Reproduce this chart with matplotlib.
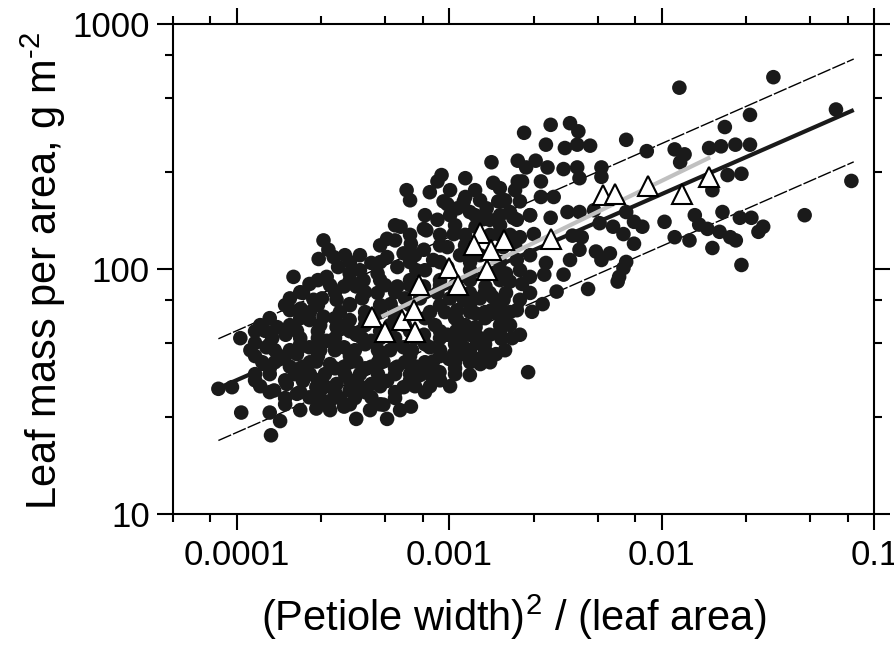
import numpy as np
import matplotlib.pyplot as plt
from matplotlib.ticker import FixedLocator, NullFormatter

plt.rcParams['font.family'] = ['Liberation Sans', 'DejaVu Sans']
plt.rcParams['mathtext.fontset'] = 'custom'
plt.rcParams['mathtext.rm'] = 'Liberation Sans'
plt.rcParams['mathtext.default'] = 'regular'

# all species: (petiole width)^2 / leaf area  vs  LMA (g m-2)
petiole_ratio = [
    0.00158, 0.0021, 0.00092, 0.00088, 0.00119, 0.00063, 0.00081, 0.00161, 0.00173, 0.0021,
    0.00094, 0.00109, 0.00119, 0.00125, 0.0015, 0.0017, 0.00193, 0.00155, 0.00208, 0.00088,
    0.00076, 0.00059, 0.00051, 0.00133, 0.000256, 0.00027, 0.000243, 0.000286, 0.0003, 0.00043,
    0.00046, 0.00066, 0.00061, 0.00076, 0.00084, 0.00098, 0.00034, 0.00051, 0.00057, 0.0007,
    0.00098, 0.00179, 0.00208, 0.000185, 0.00022, 0.000265, 0.000205, 0.00023, 0.000178, 0.0002,
    0.00032, 0.000365, 0.000395, 0.000295, 0.00034, 0.00046, 0.00057, 0.00053, 0.00076, 0.00088,
    0.00117, 0.00125, 0.00155, 0.0018, 0.00208, 0.00166, 0.00109, 0.000136, 0.000155, 0.000122,
    0.000138, 0.00017, 0.000192, 0.00022, 0.000256, 0.000295, 0.00034, 0.000365, 0.000265, 0.00022,
    0.00032, 0.00043, 0.00061, 0.00076, 0.00081, 0.00098, 0.00109, 0.00125, 0.00133, 0.00155,
    0.00176, 0.00215, 0.00016, 0.000192, 0.000178, 0.000205, 0.000237, 0.000275, 0.00032, 0.000365,
    0.00043, 0.00049, 0.00057, 0.0007, 0.00084, 0.001, 0.00117, 0.00138, 0.00166, 0.0009,
    0.00125, 0.00061, 0.00051, 0.00043, 0.00034, 0.000295, 0.000237, 0.000205, 0.000172, 0.00015,
    0.000192, 0.000082, 0.000095, 0.00073, 0.000143, 0.00016, 0.000275, 0.000237, 0.00032, 0.000365,
    0.00043, 0.00049, 0.00051, 0.00066, 0.00022, 0.000145, 0.000105,
    0.066, 0.026, 0.00225, 0.003, 0.0037, 0.00405, 0.0068, 0.00285, 0.0035, 0.004,
    0.0046, 0.0198, 0.0167, 0.019, 0.0222, 0.026, 0.0115, 0.0128, 0.0085, 0.00255,
    0.0023, 0.0029, 0.00345, 0.004, 0.0052, 0.0052, 0.0041, 0.0022, 0.0122, 0.0204,
    0.0237, 0.0173, 0.0027, 0.0027, 0.0031, 0.0018, 0.00215, 0.0036, 0.0041, 0.0048,
    0.0068, 0.0024, 0.003, 0.002, 0.00145, 0.00117, 0.00098, 0.00078, 0.00105, 0.0017,
    0.00215, 0.0025, 0.0038, 0.0042, 0.0051, 0.0059, 0.0066, 0.0074, 0.0074, 0.0081,
    0.0103, 0.0143, 0.015, 0.0164, 0.0187, 0.021, 0.0223, 0.0193, 0.0233, 0.0264,
    0.03, 0.0285, 0.0115, 0.0135, 0.0173, 0.0237, 0.047, 0.078, 0.0049, 0.0057,
    0.0052, 0.0068, 0.0066, 0.0063, 0.0062, 0.0045, 0.00345, 0.0032, 0.0041, 0.0037,
    0.00285, 0.0028, 0.0024, 0.0022, 0.00193, 0.0024, 0.00275, 0.00245, 0.00215, 0.00185,
    0.00173, 0.00179, 0.00158, 0.00173, 0.00135, 0.0014, 0.00117, 0.00105, 0.00079, 0.00235,
    0.00108, 0.00133, 0.0016, 0.00148, 0.00185, 0.0121, 0.0335,
    # dense core of the cloud
    0.000275, 0.000499, 0.000654, 0.000905, 0.001065,
    0.000178, 0.000252, 0.000389, 0.000619, 0.000729, 0.001009, 0.001396,
    0.000221, 0.000306, 0.000402, 0.000473, 0.000556, 0.000812, 0.000955, 0.001253, 0.001474, 0.001932,
    0.000129, 0.000178, 0.000247, 0.000323, 0.000402, 0.000527, 0.000619, 0.000857, 0.001187, 0.001734, 0.001932,
    0.000104, 0.000147, 0.000199, 0.000241, 0.00029, 0.000389, 0.000473, 0.000556, 0.00069, 0.000905,
    0.001124, 0.001396, 0.001975,
    0.000116, 0.000151, 0.000178, 0.000247, 0.00029, 0.00036, 0.000462, 0.000527, 0.000668, 0.000905,
    0.001253, 0.001474, 0.00183,
    0.000132, 0.000151, 0.000221, 0.000341, 0.000462, 0.000619, 0.000769, 0.001065, 0.001253, 0.001556,
    0.000122, 0.000143, 0.000188, 0.000221, 0.00026, 0.000323, 0.00038, 0.000462, 0.000556, 0.000654,
    0.000812, 0.001065,
    0.000129, 0.00026, 0.00038, 0.000473, 0.00069, 0.000812, 0.001009,
    0.000169, 0.000247, 0.000306, 0.00036, 0.000556,
    0.000199, 0.000275, 0.000424, 0.000587,
    0.001009, 0.001323, 0.00204,
    0.000769, 0.001009, 0.001323, 0.001734, 0.0024,
    0.000654, 0.000905, 0.001187, 0.001556, 0.001932,
    0.00038, 0.00069, 0.001124, 0.001396, 0.0024,
    0.00038, 0.000769, 0.001253, 0.001734, 0.002153,
    0.000323, 0.000473, 0.000556,
    # staggered fill between the rows above
    0.000241, 0.000341, 0.000473, 0.000654, 0.000905, 0.001253, 0.001734,
    0.000199, 0.00029, 0.000402, 0.000556, 0.000769, 0.001065, 0.001474,
    0.000169, 0.000241, 0.000341, 0.000473, 0.000654, 0.000905, 0.001253, 0.001734,
    0.000143, 0.000199, 0.00029, 0.000402, 0.000556, 0.000769, 0.001065, 0.001474,
    0.000122, 0.000169, 0.000241, 0.000341, 0.000473, 0.000654, 0.000905, 0.001253, 0.001734,
    0.000143, 0.000199, 0.00029, 0.000402, 0.000556, 0.000769, 0.001065, 0.001474,
    0.000122, 0.000169, 0.000241, 0.000341, 0.000473, 0.000654, 0.000905, 0.001253,
    0.000143, 0.000199, 0.00029, 0.000402, 0.000556, 0.000769, 0.001065,
    0.000122, 0.000169, 0.000241, 0.000341, 0.000473, 0.000654, 0.000905,
    0.000143, 0.000199, 0.00029, 0.000402, 0.000556, 0.000769,
    0.000169, 0.000241, 0.000341, 0.000473,
    0.000654, 0.001396, 0.00183,
    0.000556, 0.001065, 0.001734,
    0.000905, 0.001187, 0.00204,
    0.000341, 0.000473, 0.000654, 0.000905, 0.001253, 0.001734,
]
lma = [
    273, 277, 242, 228, 235, 210, 206, 225, 214, 228,
    189, 177, 197, 171, 177, 189, 171, 159, 159, 159,
    146, 149, 133, 149, 131, 120, 110, 112, 102, 106,
    96, 127, 116, 120, 109, 123, 96, 112, 102, 99,
    102, 123, 109, 93, 87, 93, 80, 75, 68, 69,
    85, 85, 90, 75, 72, 80, 85, 72, 85, 80,
    75, 80, 80, 75, 68, 66, 68, 56, 58, 50,
    48, 54, 56, 62, 64, 58, 62, 54, 51, 48,
    48, 51, 48, 54, 48, 54, 62, 54, 66, 54,
    52, 54, 43, 45, 40, 40, 42, 41, 40, 42,
    40, 42, 40, 40, 42, 43, 45, 43, 45, 38,
    37, 33, 35, 34, 32, 34, 33, 35, 34, 32,
    31, 32.5, 33, 37, 26, 24, 29, 27, 27.5, 24.5,
    30, 28, 24.5, 27.5, 30, 21, 26,
    448, 426, 360, 388, 394, 365, 337, 322, 312, 322,
    319, 380, 312, 317, 322, 322, 308, 294, 303, 277,
    260, 260, 256, 260, 260, 238, 235, 228, 273, 242,
    245, 210, 228, 197, 197, 189, 189, 171, 171, 174,
    171, 166, 162, 162, 160, 189, 184, 144, 139, 139,
    135, 139, 137, 135, 154, 149, 139, 127, 156, 149,
    156, 166, 152, 146, 142, 135, 131, 171, 162, 162,
    149, 142, 135, 131, 122, 104, 166, 229, 118, 116,
    109, 107, 101, 93, 89, 83, 95, 81, 120, 109,
    106, 95, 93, 87, 89, 80, 72, 67, 75, 80,
    70, 64, 68, 54, 50, 41, 48, 45, 41, 38,
    56, 58, 77, 85, 96, 550, 607,
    # dense core of the cloud
    86, 86, 86, 86, 86,
    76, 76, 76, 76, 76, 76, 76,
    66.8, 66.8, 66.8, 66.8, 66.8, 66.8, 66.8, 66.8, 66.8, 66.8,
    59.1, 59.1, 59.1, 59.1, 59.1, 59.1, 59.1, 59.1, 59.1, 59.1, 59.1,
    52.3, 52.3, 52.3, 52.3, 52.3, 52.3, 52.3, 52.3, 52.3, 52.3,
    52.3, 52.3, 52.3,
    46.7, 46.7, 46.7, 46.7, 46.7, 46.7, 46.7, 46.7, 46.7, 46.7,
    46.7, 46.7, 46.7,
    41.7, 41.7, 41.7, 41.7, 41.7, 41.7, 41.7, 41.7, 41.7, 41.7,
    37.3, 37.3, 37.3, 37.3, 37.3, 37.3, 37.3, 37.3, 37.3, 37.3,
    37.3, 37.3,
    33.3, 33.3, 33.3, 33.3, 33.3, 33.3, 33.3,
    29.8, 29.8, 29.8, 29.8, 29.8,
    26.6, 26.6, 26.6, 26.6,
    210, 210, 210,
    166, 166, 166, 166, 166,
    138, 138, 138, 138, 138,
    114, 114, 114, 114, 114,
    99, 99, 99, 99, 99,
    114, 125, 131,
    # staggered fill between the rows above
    90.2, 90.2, 90.2, 90.2, 90.2, 90.2, 90.2,
    80.5, 80.5, 80.5, 80.5, 80.5, 80.5, 80.5,
    71.3, 71.3, 71.3, 71.3, 71.3, 71.3, 71.3, 71.3,
    63.1, 63.1, 63.1, 63.1, 63.1, 63.1, 63.1, 63.1,
    55.8, 55.8, 55.8, 55.8, 55.8, 55.8, 55.8, 55.8, 55.8,
    49.4, 49.4, 49.4, 49.4, 49.4, 49.4, 49.4, 49.4,
    44.2, 44.2, 44.2, 44.2, 44.2, 44.2, 44.2, 44.2,
    39.4, 39.4, 39.4, 39.4, 39.4, 39.4, 39.4,
    35.2, 35.2, 35.2, 35.2, 35.2, 35.2, 35.2,
    31.5, 31.5, 31.5, 31.5, 31.5, 31.5,
    28.1, 28.1, 28.1, 28.1,
    191, 191, 191,
    151, 151, 151,
    125, 125, 125,
    106.8, 106.8, 106.8, 106.8, 106.8, 106.8,
]

# subset means (open triangles)
tri_ratio = [0.000435, 0.0005, 0.0006, 0.00069, 0.00068, 0.00072, 0.001, 0.0011, 0.00139, 0.0018,
             0.00131, 0.00158, 0.0015, 0.003, 0.0053, 0.006, 0.0086, 0.0125, 0.0167]
tri_lma = [64, 55.5, 62, 55.5, 68, 86, 101, 86, 141, 131,
           125, 120, 99, 133, 200, 203, 218, 203, 238]

# fitted lines (endpoints on log-log axes)
fit_x = [0.000082, 0.08]
fit_y = [32.7, 446]
upper_y = [52, 720]
lower_y = [20, 274]
grey_x = [0.00048, 0.0169]
grey_y = [64, 286]

fig = plt.figure(figsize=(8.95, 6.46), dpi=100)
ax = fig.add_axes([0.193, 0.2039, 0.7839, 0.7589])

# black lines sit under the dots, grey line and triangles on top
ax.plot(fit_x, upper_y, color='black', lw=1.0, ls=(0, (10, 1.5)), zorder=2)
ax.plot(fit_x, lower_y, color='black', lw=1.0, ls=(0, (10, 1.5)), zorder=2)
ax.plot(fit_x, fit_y, color='#1a1a1a', lw=3.0, solid_capstyle='butt', zorder=2)
ax.scatter(petiole_ratio, lma, s=110, color='#1a1a1a', edgecolors='none', zorder=3)
ax.plot(grey_x, grey_y, color='#c0c0c0', lw=3.0, solid_capstyle='butt', zorder=4)
ax.plot(tri_ratio, tri_lma, ls='none', marker='^', ms=15, mfc='white', mec='black',
        mew=1.5, zorder=5)

ax.set_xscale('log')
ax.set_yscale('log')
ax.set_xlim(5e-5, 0.1)
ax.set_ylim(10, 1000)

ax.xaxis.set_major_locator(FixedLocator([1e-4, 1e-3, 1e-2, 1e-1]))
ax.set_xticklabels(['0.0001', '0.001', '0.01', '0.1'])
xminor = [m * 10.0 ** e for e in range(-5, -1) for m in (2.5, 5, 7.5)]
ax.xaxis.set_minor_locator(FixedLocator(xminor))
ax.xaxis.set_minor_formatter(NullFormatter())

ax.yaxis.set_major_locator(FixedLocator([10, 100, 1000]))
ax.set_yticklabels(['10', '100', '1000'])
ax.yaxis.set_minor_locator(FixedLocator([25, 50, 75, 250, 500, 750]))
ax.yaxis.set_minor_formatter(NullFormatter())

for sp in ax.spines.values():
    sp.set_linewidth(1.5)
ax.tick_params(which='both', direction='out', top=True, right=True, width=1.5, labelsize=25)
ax.tick_params(which='major', length=11.5)
ax.tick_params(which='minor', length=5.5)
ax.tick_params(axis='x', pad=6)
ax.tick_params(axis='y', pad=5)

fig.text(514 / 895, 1 - 617 / 646, '(Petiole width)$^{2}$ / (leaf area)',
         ha='center', va='center', fontsize=30)
fig.text(43 / 895, 1 - 271 / 646, 'Leaf mass per area, g m$^{\\text{-}2}$',
         ha='center', va='center', rotation=90, fontsize=30)

fig.savefig('out.png', dpi=100)
